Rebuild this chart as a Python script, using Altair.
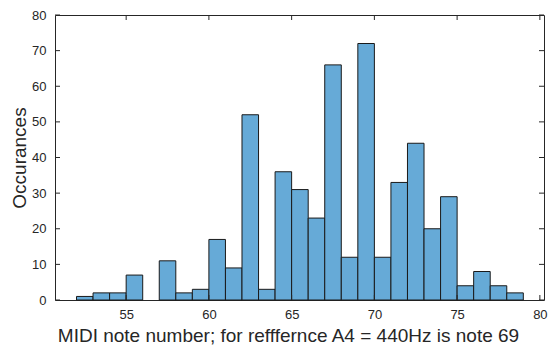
import altair as alt
import pandas as pd

# Histogram data (bins of width 1, left edges)
bin_start = list(range(52, 79))
counts = [1, 2, 2, 7, 0, 11, 2, 3, 17, 9, 52, 3, 36, 31, 23, 66, 12, 72, 12,
          33, 44, 20, 29, 4, 8, 4, 2]
x_ticks = [55, 60, 65, 70, 75, 80]
y_ticks = [0, 10, 20, 30, 40, 50, 60, 70, 80]
x_title = "MIDI note number; for refffernce A4 = 440Hz is note 69"
y_title = "Occurances"

W, H = 489, 285
INK = "#262626"
FONT = "Liberation Sans"

df = pd.DataFrame({"start": bin_start, "count": counts})
df["end"] = df["start"] + 1
df["base"] = 0
xt = pd.DataFrame({"t": x_ticks})
yt = pd.DataFrame({"t": y_ticks})

xscale = alt.Scale(domain=[50.7, 80.25], nice=False, zero=False)
yscale = alt.Scale(domain=[0, 80], nice=False, zero=False)

xaxis = alt.Axis(values=x_ticks, title=x_title, ticks=False, tickSize=0,
                 domain=False, grid=False, labelPadding=8,
                 titlePadding=5, titleX=233, titleAlign="center", format="d")
yaxis = alt.Axis(values=y_ticks, title=y_title, ticks=False, tickSize=0,
                 domain=False, grid=False, labelPadding=9,
                 titlePadding=2, format="d")

bars = (
    alt.Chart(df)
    .transform_filter("datum.count > 0")
    .mark_bar(fill="#66AAD7", stroke="#1a1a1a", strokeWidth=1)
    .encode(
        x=alt.X("start:Q", scale=xscale, axis=xaxis),
        x2="end:Q",
        y=alt.Y("count:Q", scale=yscale, axis=yaxis),
        y2="base:Q",
    )
)

tick_len = 5
bottom = alt.Chart(xt).mark_rule(color=INK, strokeWidth=1).encode(
    x=alt.X("t:Q", scale=xscale, axis=xaxis),
    y=alt.value(H), y2=alt.value(H - tick_len))
top = alt.Chart(xt).mark_rule(color=INK, strokeWidth=1).encode(
    x=alt.X("t:Q", scale=xscale, axis=xaxis),
    y=alt.value(0), y2=alt.value(tick_len))
left = alt.Chart(yt).mark_rule(color=INK, strokeWidth=1).encode(
    y=alt.Y("t:Q", scale=yscale, axis=yaxis),
    x=alt.value(0), x2=alt.value(tick_len))
right = alt.Chart(yt).mark_rule(color=INK, strokeWidth=1).encode(
    y=alt.Y("t:Q", scale=yscale, axis=yaxis),
    x=alt.value(W), x2=alt.value(W - tick_len))

chart = (
    alt.layer(bars, bottom, top, left, right)
    .properties(width=W, height=H,
                autosize=alt.AutoSizeParams(type="none"),
                padding={"left": 47, "top": 7, "right": 4, "bottom": 46})
    .configure_view(stroke=INK, strokeWidth=1)
    .configure_axis(labelFont=FONT, labelFontSize=13, labelColor=INK,
                    titleFont=FONT, titleFontSize=19, titleColor=INK,
                    titleFontWeight="normal")
)

chart.save("out.html", embed_options={"renderer": "svg", "actions": False})
